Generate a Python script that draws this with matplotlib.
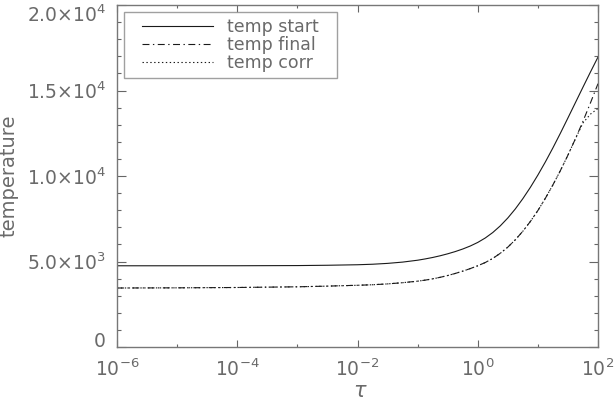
import matplotlib
matplotlib.use("Agg")
import matplotlib.pyplot as plt
import numpy as np
from matplotlib.ticker import FixedLocator, NullFormatter, FixedFormatter
from matplotlib.legend_handler import HandlerLine2D

plt.rcParams['font.family'] = ['DejaVu Sans']
plt.rcParams['mathtext.default'] = 'regular'
plt.rcParams['lines.scale_dashes'] = False

log_tau = [-6, -5, -4, -3, -2.5, -2, -1.75, -1.5, -1.25,
           -1.0, -0.875, -0.75, -0.625, -0.5, -0.375, -0.25, -0.125,
           0.0, 0.125, 0.25, 0.375, 0.5, 0.625, 0.75, 0.875,
           1.0, 1.125, 1.25, 1.375, 1.5, 1.625, 1.75, 1.875, 2.0]
temp_start = [4750, 4750, 4752, 4762, 4780, 4810, 4840, 4890, 4965,
              5075, 5150, 5235, 5335, 5450, 5580, 5730, 5905,
              6115, 6375, 6695, 7085, 7545, 8075, 8675, 9335,
              10055, 10825, 11645, 12505, 13395, 14295, 15195, 16085, 16955]
temp_final = [3450, 3460, 3480, 3520, 3560, 3610, 3640, 3690, 3760,
              3850, 3910, 3985, 4075, 4180, 4300, 4435, 4585,
              4750, 4940, 5180, 5480, 5840, 6270, 6770, 7340,
              7980, 8700, 9480, 10320, 11220, 12180, 13200, 14280, 15400]
temp_corr = [3450, 3460, 3480, 3520, 3560, 3610, 3640, 3690, 3760,
             3850, 3910, 3985, 4075, 4180, 4300, 4435, 4585,
             4750, 4940, 5180, 5480, 5840, 6270, 6770, 7340,
             7980, 8700, 9480, 10320, 11220, 12180, 13100, 13620, 13950]

y_major = [0, 5000, 10000, 15000, 20000]
y_labels = ['0', '5.0×10$^3$', '1.0×10$^4$', '1.5×10$^4$', '2.0×10$^4$']
x_major = [1e-6, 1e-4, 1e-2, 1e0, 1e2]
x_labels = ['10$^{-6}$', '10$^{-4}$', '10$^{-2}$', '10$^{0}$', '10$^{2}$']
x_minor = [1e-5, 1e-3, 1e-1, 1e1]

tau = 10.0 ** np.array(log_tau)

fig = plt.figure(figsize=(6.14, 4.0), dpi=100)
L, R, T, B = 117, 598, 5, 347
ax = fig.add_axes([L/614, (400-B)/400, (R-L)/614, (B-T)/400])
W, H = R - L, B - T

lc = '#1a1a1a'
ax.plot(tau, temp_start, color=lc, lw=0.8, ls='-', label='temp start')
ax.plot(tau, temp_final, color=lc, lw=0.8, ls=(0, (5, 2.5, 1, 2.5)), label='temp final')
ax.plot(tau, temp_corr, color=lc, lw=0.8, ls=(0, (1, 1.8)), label='temp corr')

ax.set_xscale('log')
ax.set_xlim(1e-6, 1e2)
ax.set_ylim(0, 20000)

tc = '#666666'
txc = '#6a6a6a'
ax.xaxis.set_major_locator(FixedLocator(x_major))
ax.xaxis.set_major_formatter(FixedFormatter(x_labels))
ax.xaxis.set_minor_locator(FixedLocator(x_minor))
ax.xaxis.set_minor_formatter(NullFormatter())
ax.yaxis.set_major_locator(FixedLocator(y_major))
ax.yaxis.set_major_formatter(FixedFormatter(y_labels))
ax.yaxis.set_minor_locator(FixedLocator([v for v in range(1000, 20000, 1000) if v % 5000]))

ax.tick_params(axis='x', which='major', direction='in', length=4.9, width=0.8, color=tc,
               top=True, bottom=True, labelsize=13.5, labelcolor=txc, pad=8.5)
ax.tick_params(axis='x', which='minor', direction='in', length=2.5, width=0.8, color=tc,
               top=True, bottom=True)
ax.tick_params(axis='y', which='major', direction='in', length=6.5, width=0.8, color=tc,
               left=True, right=True, labelsize=13.5, labelcolor=txc, pad=8)
ax.tick_params(axis='y', which='minor', direction='in', length=3.0, width=0.8, color=tc,
               left=True, right=True)
for s in ax.spines.values():
    s.set_color('#777777')
    s.set_linewidth(1.0)

ylabs = ax.get_yticklabels()
ylabs[0].set_verticalalignment('baseline')
ylabs[-1].set_verticalalignment('top')

ax.set_ylabel('temperature', fontsize=14, color=txc)
ax.yaxis.set_label_coords((19 - L) / W, 0.5)
ax.set_xlabel(r'$\mathit{\tau}$', fontsize=15, color=txc)
ax.xaxis.set_label_coords((360 - L) / W, (B - 381) / H)

fs = 12.5
fpx = fs * 100 / 72
handler = HandlerLine2D(numpoints=2, marker_pad=12 / fpx)
x0 = (124 - L) / W
y1 = (B - 12) / H
y0 = (B - 78) / H
w = (337 - 124) / W
leg = ax.legend(loc='upper left', bbox_to_anchor=(x0, y0, w, y1 - y0), mode='expand',
                borderaxespad=0, fontsize=fs, handlelength=(71 + 24) / fpx,
                handletextpad=2 / fpx, labelspacing=0.0, frameon=True, fancybox=False,
                borderpad=6 / fpx, labelcolor=txc,
                handler_map={matplotlib.lines.Line2D: handler})
leg.get_frame().set_edgecolor('#888888')
leg.get_frame().set_linewidth(1.0)

fig.savefig('out.png', dpi=100)
